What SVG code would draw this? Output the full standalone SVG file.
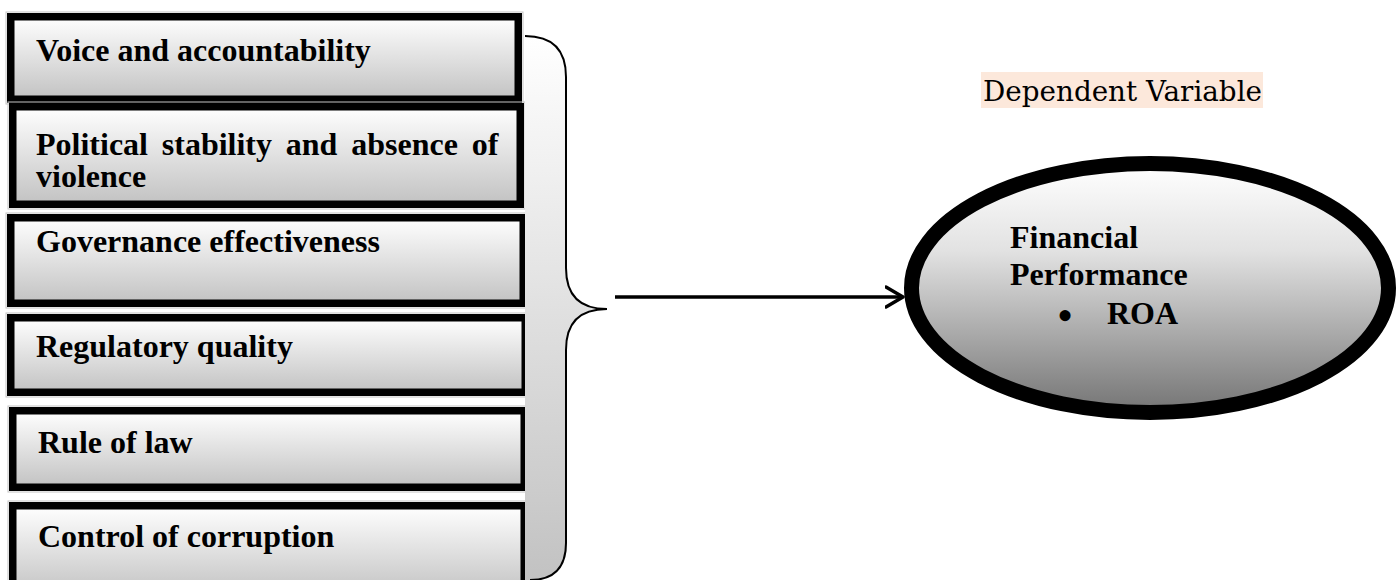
<svg xmlns="http://www.w3.org/2000/svg" width="1396" height="580" viewBox="0 0 1396 580">
  <style>
    .box { stroke: #000; stroke-width: 7.5; fill: url(#boxFill); }
    .halo { fill: none; stroke: #c4c4c4; stroke-width: 1; }
    .lbl { font-family: "Liberation Serif", "Times New Roman", serif; font-weight: bold; font-size: 32px; fill: #000; }
    .dot { font-family: "Liberation Serif", "Times New Roman", serif; font-size: 46px; fill: #000; }
    .plain { font-family: "DejaVu Serif", Georgia, serif; font-size: 27px; fill: #000; }
  </style>
  <defs>
    <linearGradient id="boxFill" x1="0" y1="0" x2="0" y2="1">
      <stop offset="0" stop-color="#ffffff"/>
      <stop offset="1" stop-color="#c2c2c2"/>
    </linearGradient>
    <linearGradient id="braceFill" gradientUnits="userSpaceOnUse" x1="0" y1="36" x2="0" y2="580">
      <stop offset="0" stop-color="#ffffff"/>
      <stop offset="1" stop-color="#c2c2c2"/>
    </linearGradient>
    <linearGradient id="ovalFill" x1="0" y1="0" x2="0" y2="1">
      <stop offset="0" stop-color="#ffffff"/>
      <stop offset="0.35" stop-color="#e2e2e2"/>
      <stop offset="1" stop-color="#747474"/>
    </linearGradient>
    <marker id="openHead" viewBox="0 0 20 24" refX="18" refY="12" markerWidth="20" markerHeight="24" markerUnits="userSpaceOnUse" orient="auto">
      <path d="M1,2 L18,12 L1,22" fill="none" stroke="#000" stroke-width="3.5" stroke-linecap="round" stroke-linejoin="round"/>
    </marker>
  </defs>

  <!-- governance indicators -->
  <g id="voice">
    <rect class="halo" x="6" y="12" width="517" height="92"/>
    <rect class="box" x="10.75" y="16.75" width="507.5" height="82.5"/>
    <text class="lbl" x="36" y="61">Voice and accountability</text>
  </g>
  <g id="political">
    <rect class="halo" x="8" y="102" width="517" height="107"/>
    <rect class="box" x="12.75" y="106.75" width="507.5" height="97.5"/>
    <text class="lbl" x="36" y="155" word-spacing="5.8">Political stability and absence of</text>
    <text class="lbl" x="36" y="187">violence</text>
  </g>
  <g id="effectiveness">
    <rect class="halo" x="6" y="213" width="522" height="95"/>
    <rect class="box" x="10.75" y="217.75" width="512.5" height="85.5"/>
    <text class="lbl" x="36" y="252">Governance effectiveness</text>
  </g>
  <g id="regulatory">
    <rect class="halo" x="6" y="313" width="524" height="84"/>
    <rect class="box" x="10.75" y="317.75" width="514.5" height="74.5"/>
    <text class="lbl" x="36" y="357">Regulatory quality</text>
  </g>
  <g id="rule-of-law">
    <rect class="halo" x="8" y="406" width="521" height="86"/>
    <rect class="box" x="12.75" y="410.75" width="511.5" height="76.5"/>
    <text class="lbl" x="38" y="453">Rule of law</text>
  </g>
  <g id="corruption">
    <rect class="halo" x="8" y="501" width="521" height="100"/>
    <rect class="box" x="12.75" y="505.75" width="511.5" height="90"/>
    <text class="lbl" x="38" y="547">Control of corruption</text>
  </g>

  <!-- grouping brace -->
  <g id="brace">
    <path d="M525,36 Q566,36 566,77 L566,268 Q566,309 607,309 Q566,309 566,350 L566,543 Q566,580 530,580 L525,580 Z" fill="url(#braceFill)" stroke="none"/>
    <path d="M525,36 Q566,36 566,77 L566,268 Q566,309 607,309 Q566,309 566,350 L566,543 Q566,580 530,580" fill="none" stroke="#000" stroke-width="2"/>
  </g>

  <g id="connectors">
    <line x1="615" y1="297" x2="903" y2="297" stroke="#000" stroke-width="3.5" marker-end="url(#openHead)"/>
  </g>

  <!-- outcome -->
  <g id="dependent-label">
    <rect x="981" y="72" width="282" height="36" fill="#fce8db"/>
    <text class="plain" x="983" y="101" textLength="279" lengthAdjust="spacingAndGlyphs">Dependent Variable</text>
  </g>
  <g id="performance">
    <ellipse cx="1150" cy="288" rx="238.5" ry="124.5" fill="url(#ovalFill)" stroke="#000" stroke-width="15"/>
    <text class="lbl" x="1010" y="248">Financial</text>
    <text class="lbl" x="1010" y="285">Performance</text>
    <text class="dot" x="1057" y="331">•</text>
    <text class="lbl" x="1107" y="324">ROA</text>
  </g>
</svg>
